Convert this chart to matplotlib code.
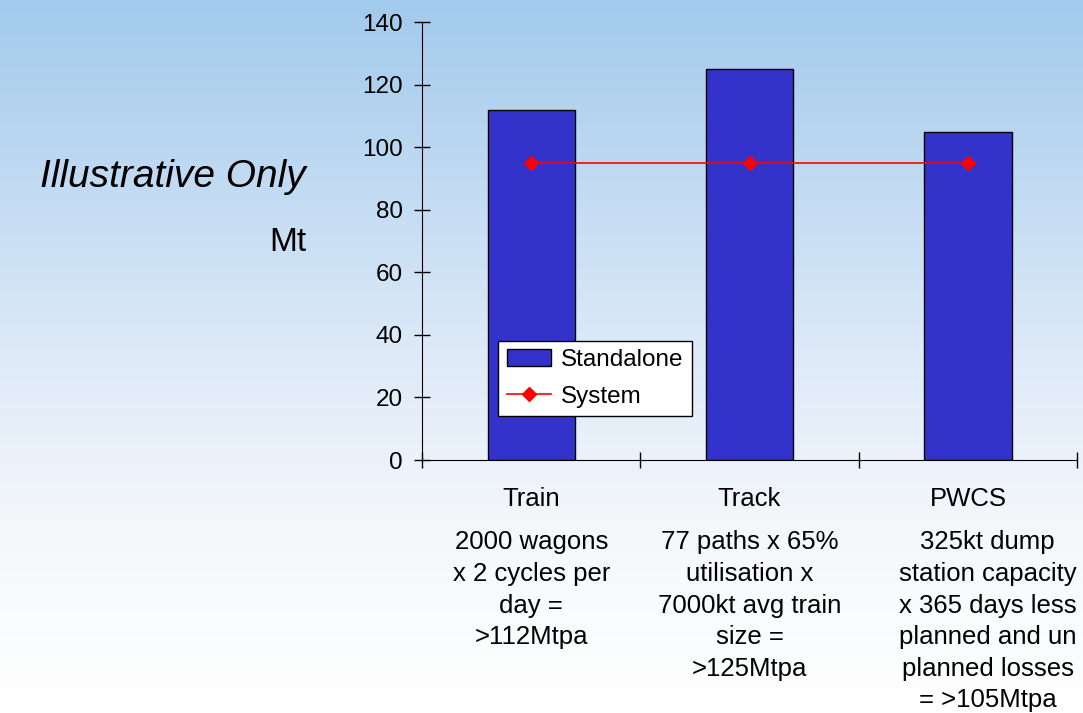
import matplotlib.pyplot as plt
import numpy as np

plt.rcParams['font.family'] = ['Liberation Sans', 'DejaVu Sans']

# data
categories = ["Train", "Track", "PWCS"]
standalone = [112, 125, 105]
system = [95, 95, 95]
descriptions = [
    "2000 wagons\nx 2 cycles per\nday =\n>112Mtpa",
    "77 paths x 65%\nutilisation x\n7000kt avg train\nsize =\n>125Mtpa",
    "325kt dump\nstation capacity\nx 365 days less\nplanned and un\nplanned losses\n= >105Mtpa",
]

fig = plt.figure(figsize=(10.83, 7.13), dpi=100)

# background gradient, light blue at top fading to white
stops = np.array([0.0, 0.5, 0.75, 1.0])
cols = np.array([[162, 202, 236], [222, 234, 248], [245, 248, 251], [255, 255, 255]]) / 255.0
t = np.linspace(0, 1, 400)
grad = np.stack([np.interp(t, stops, cols[:, i]) for i in range(3)], axis=-1)
bg = fig.add_axes([0, 0, 1, 1], zorder=-10)
bg.imshow(grad[:, None, :], aspect='auto', extent=[0, 1, 0, 1])
bg.axis('off')

ax = fig.add_axes([0.3897, 0.3548, 0.6048, 0.6143])
ax.patch.set_alpha(0)
x = np.arange(len(categories))
bars = ax.bar(x, standalone, width=0.4, color='#3333CC', edgecolor='black', linewidth=1,
              label='Standalone', zorder=2)
line, = ax.plot(x, system, color='#FF0000', linewidth=1.2, marker='D', markersize=7,
                label='System', zorder=3)

ax.set_xlim(-0.5, 2.5)
ax.set_ylim(0, 140)
ax.set_yticks(range(0, 141, 20))
ax.set_xticks([-0.5, 0.5, 1.5, 2.5])
ax.set_xticklabels([])
ax.tick_params(axis='both', direction='inout', length=12, width=1, labelsize=17.5)
ax.tick_params(axis='y', pad=8)
for s in ['top', 'right']:
    ax.spines[s].set_visible(False)

for i, (c, d) in enumerate(zip(categories, descriptions)):
    ax.text(i, -12.5, c, ha='center', va='center', fontsize=18.5)
    xd = i + 0.09 if i == 2 else i
    ax.text(xd, -22.5, d, ha='center', va='top', fontsize=18.5, linespacing=1.4,
            clip_on=False)

leg = ax.legend([bars, line], ['Standalone', 'System'], loc='lower left',
                bbox_to_anchor=(0.116, 0.1), fontsize=17.5,
                frameon=True, fancybox=False, edgecolor='black', framealpha=1,
                borderpad=0.35, handlelength=1.85, handletextpad=0.4, labelspacing=0.6,
                borderaxespad=0)
leg.get_frame().set_linewidth(1)

fig.text(173 / 1083, 1 - 177 / 713, "Illustrative Only", ha='center', va='center',
         fontsize=28, style='italic')
fig.text(288 / 1083, 1 - 242 / 713, "Mt", ha='center', va='center', fontsize=24)

fig.savefig("out.png", dpi=100)
